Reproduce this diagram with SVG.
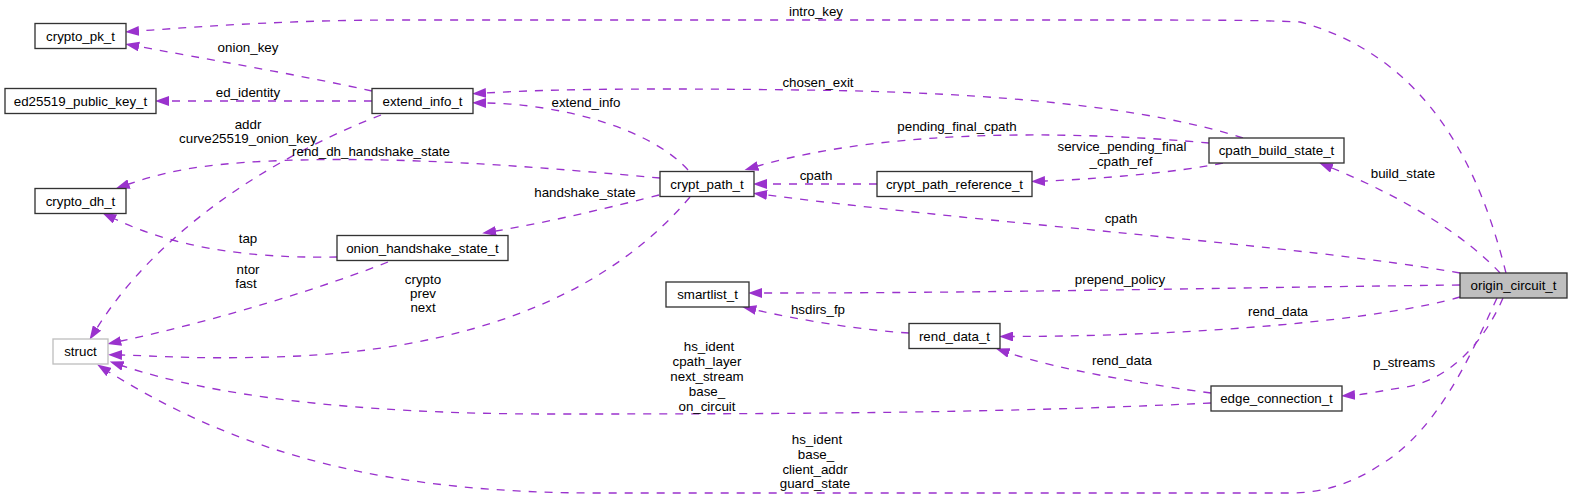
<svg xmlns="http://www.w3.org/2000/svg" width="1572" height="499" viewBox="0 0 1572 499">
<style>
text{font-family:"Liberation Sans",Arial,sans-serif;font-size:13.33px;fill:#000;text-anchor:middle}
.n rect{fill:#fff;stroke:#333;stroke-width:1.33}
.e path{fill:none;stroke:#9a32cd;stroke-width:1.33;stroke-dasharray:8,8;marker-end:url(#ah)}
</style>
<defs>
<marker id="ah" markerUnits="userSpaceOnUse" markerWidth="14" markerHeight="10" viewBox="0 0 13.3 9.4" refX="0" refY="4.7" orient="auto">
<path d="M0,0 L13.3,4.7 L0,9.4 z" fill="#9a32cd" stroke="none"/>
</marker>
</defs>
<rect width="1572" height="499" fill="#fff"/>
<g id="connectors" class="e">
<path d="M1506,273 C1485,190 1440,60 1300,22 C1260,20 1200,20 1100,20 L400,20 C300,20 220,25 139,31"/>
<path d="M372,91 C300,75 200,58 139,46.5"/>
<path d="M372,101 L169,101"/>
<path d="M381,115 C290,150 165,220 97,328"/>
<path d="M688,170 C650,128 560,104 486,103"/>
<path d="M1243,138 C1150,108 1000,92 800,90 C650,88 550,89 486,93"/>
<path d="M1209,143 C1100,133 900,125 758,166"/>
<path d="M1223,163 C1180,172 1100,179 1045,181"/>
<path d="M877,184 L767,184"/>
<path d="M1460,273 C1300,245 1000,225 767,195"/>
<path d="M660,178 C550,168 420,157 300,160 C220,162 175,168 129,184"/>
<path d="M659,195 C620,205 550,222 496,231"/>
<path d="M337,257 C280,258 190,255 115,219"/>
<path d="M388,262 C330,285 220,320 121,341"/>
<path d="M690,197 C620,280 500,345 300,356 C200,360 160,356 122,355"/>
<path d="M1500,273 C1470,240 1410,200 1332,168"/>
<path d="M1460,285 C1200,288 1000,293 762,293"/>
<path d="M909,333 C860,330 800,320 756,310"/>
<path d="M1460,297 C1380,320 1200,336 1013,336.5"/>
<path d="M1211,393 C1150,385 1060,370 1009,353"/>
<path d="M1503,298 C1485,340 1450,382 1400,388 C1380,391 1368,394 1355,395"/>
<path d="M1211,403 C1000,413 800,414 550,414 C350,414 210,395 123,366"/>
<path d="M1497,298 C1475,345 1440,430 1380,465 C1350,485 1320,493 1290,493 L600,493 C400,493 250,460 109,372"/>
</g>
<g id="labels">
<text x="816" y="16">intro_key</text>
<text x="248" y="52">onion_key</text>
<text x="248" y="97">ed_identity</text>
<text x="248" y="129">addr</text>
<text x="248" y="143">curve25519_onion_key</text>
<text x="586" y="107">extend_info</text>
<text x="818" y="87">chosen_exit</text>
<text x="957" y="131">pending_final_cpath</text>
<text x="1122" y="151">service_pending_final</text>
<text x="1121" y="166">_cpath_ref</text>
<text x="816" y="180">cpath</text>
<text x="1121" y="223">cpath</text>
<text x="371" y="156">rend_dh_handshake_state</text>
<text x="585" y="197">handshake_state</text>
<text x="248" y="243">tap</text>
<text x="248" y="274">ntor</text>
<text x="246" y="288">fast</text>
<text x="423" y="284">crypto</text>
<text x="423" y="298">prev</text>
<text x="423" y="312">next</text>
<text x="1403" y="178">build_state</text>
<text x="1120" y="284">prepend_policy</text>
<text x="818" y="314">hsdirs_fp</text>
<text x="1278" y="316">rend_data</text>
<text x="1122" y="365">rend_data</text>
<text x="1404" y="367">p_streams</text>
<text x="709" y="351">hs_ident</text>
<text x="707" y="366">cpath_layer</text>
<text x="707" y="381">next_stream</text>
<text x="707" y="396">base_</text>
<text x="707" y="411">on_circuit</text>
<text x="817" y="444">hs_ident</text>
<text x="816" y="459">base_</text>
<text x="815" y="474">client_addr</text>
<text x="815" y="488">guard_state</text>
</g>
<g id="crypto_pk_t" class="n"><rect x="35" y="23.5" width="91" height="25"/><text x="80.5" y="40.5">crypto_pk_t</text></g>
<g id="ed25519_public_key_t" class="n"><rect x="5" y="88.5" width="151" height="25"/><text x="80.5" y="105.5">ed25519_public_key_t</text></g>
<g id="crypto_dh_t" class="n"><rect x="35" y="188.5" width="91" height="25"/><text x="80.5" y="205.5">crypto_dh_t</text></g>
<g id="struct" class="n"><rect x="53" y="339" width="55" height="25" style="stroke:#bfbfbf"/><text x="80.5" y="356">struct</text></g>
<g id="extend_info_t" class="n"><rect x="372" y="88.5" width="101" height="25"/><text x="422.5" y="105.5">extend_info_t</text></g>
<g id="onion_handshake_state_t" class="n"><rect x="337" y="235.5" width="171" height="25"/><text x="422.5" y="252.5">onion_handshake_state_t</text></g>
<g id="crypt_path_t" class="n"><rect x="660" y="171.5" width="94" height="25"/><text x="707" y="188.5">crypt_path_t</text></g>
<g id="smartlist_t" class="n"><rect x="666" y="282" width="83" height="25"/><text x="707.5" y="299">smartlist_t</text></g>
<g id="crypt_path_reference_t" class="n"><rect x="877" y="171.5" width="155" height="25"/><text x="954.5" y="188.5">crypt_path_reference_t</text></g>
<g id="rend_data_t" class="n"><rect x="909" y="323.5" width="91" height="25"/><text x="954.5" y="340.5">rend_data_t</text></g>
<g id="cpath_build_state_t" class="n"><rect x="1209" y="138" width="135" height="25"/><text x="1276.5" y="155">cpath_build_state_t</text></g>
<g id="edge_connection_t" class="n"><rect x="1211" y="386" width="131" height="25"/><text x="1276.5" y="403">edge_connection_t</text></g>
<g id="origin_circuit_t" class="n"><rect x="1460" y="273" width="107" height="25" style="fill:#bfbfbf"/><text x="1513.5" y="290">origin_circuit_t</text></g>
</svg>
